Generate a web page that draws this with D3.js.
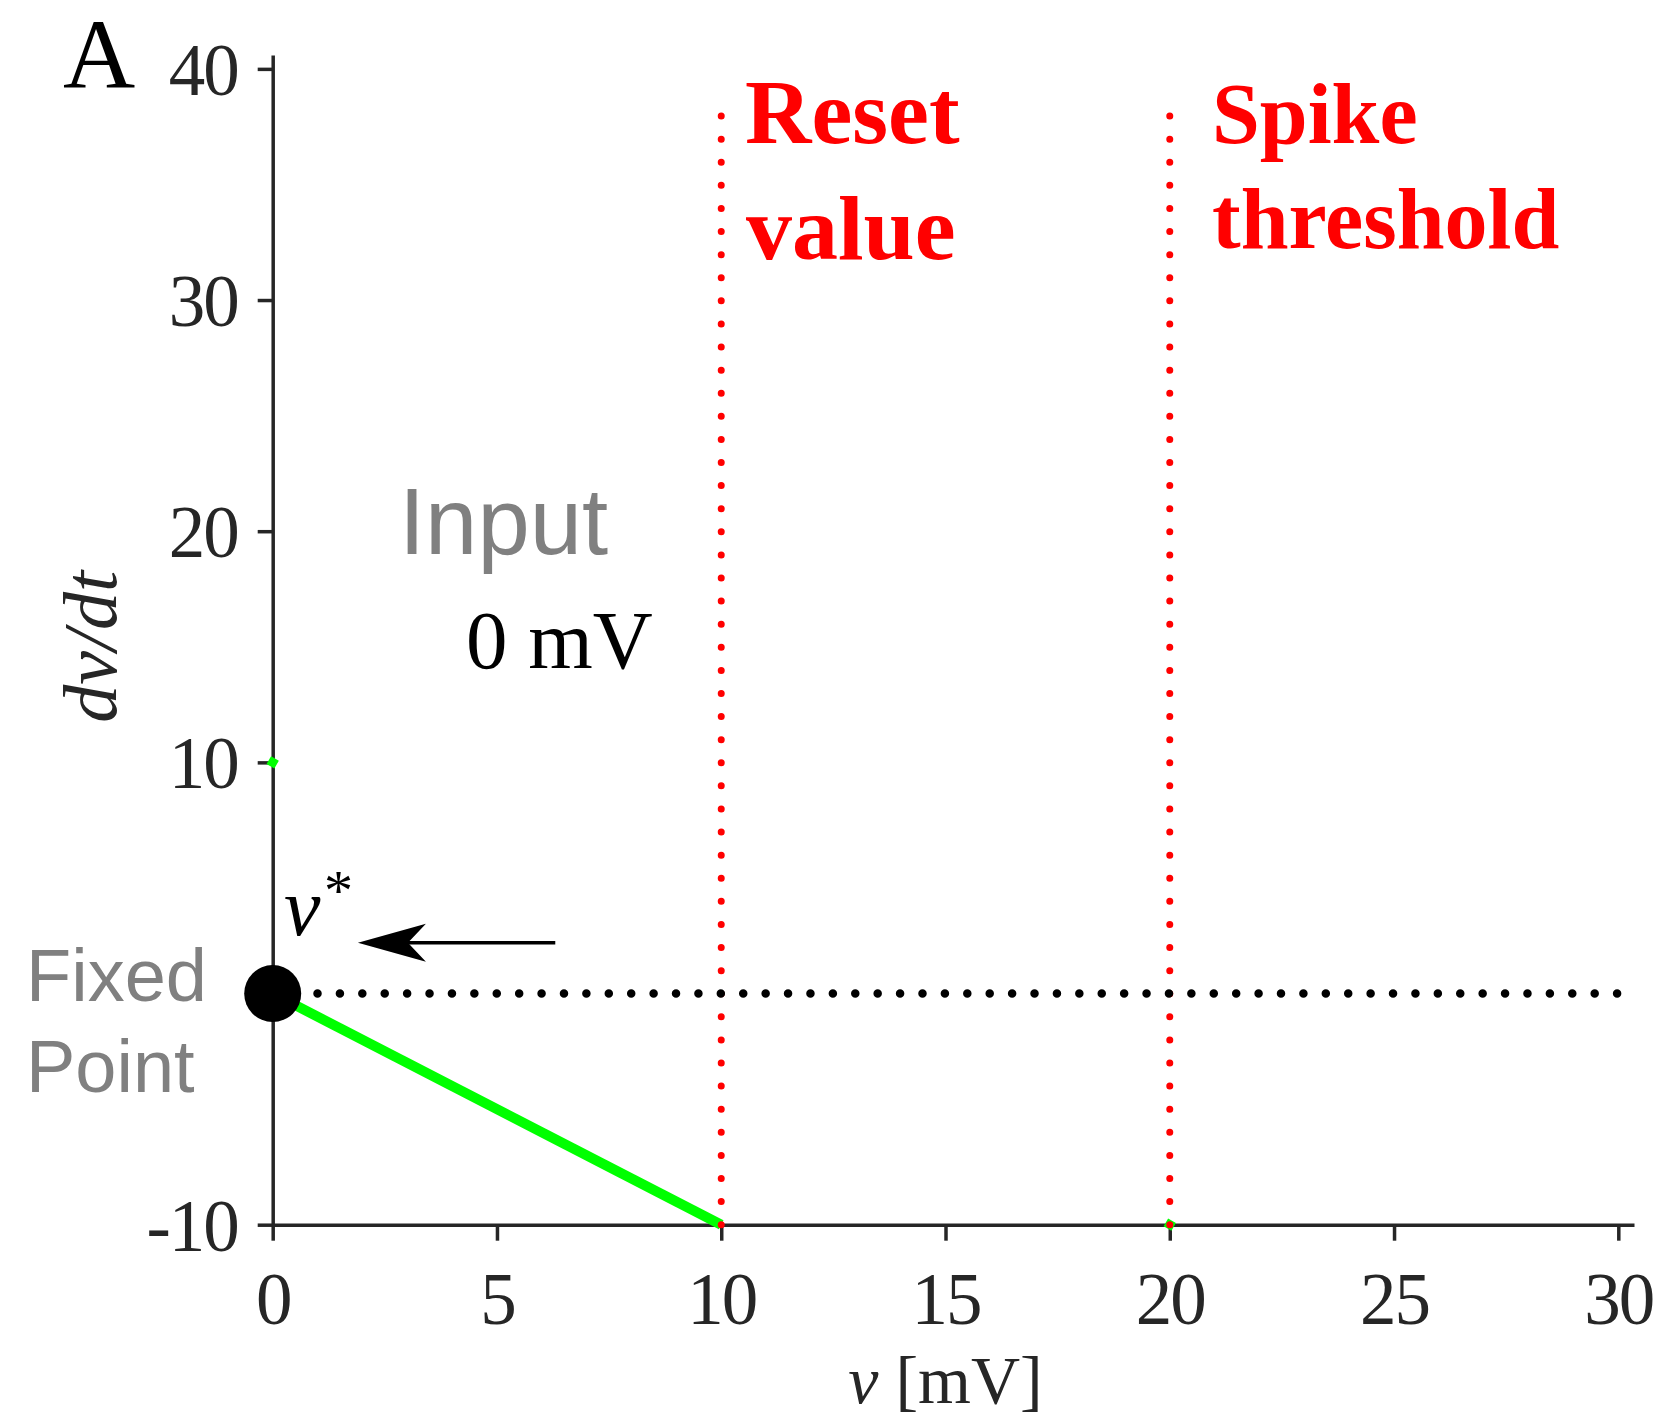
<!DOCTYPE html>
<html>
<head>
<meta charset="utf-8">
<script src="https://cdn.jsdelivr.net/npm/d3@7"></script>
<style>
  html, body { margin: 0; padding: 0; background: #fff; }
  svg { display: block; }
</style>
</head>
<body>
<script>
// Tick values for membrane voltage v (mV) and its rate dv/dt
const vTicks = [0, 5, 10, 15, 20, 25, 30];
const rateTicks = [-10, 10, 20, 30, 40];

// dv/dt for zero input: falls linearly from the fixed point to the reset value
const inputV = [0, 10];
const inputRate = [0, -10];

// Stray marker points of the input trace
const markV = [0, 20];
const markRate = [10, -10];

// Stable fixed point v*
const fixedV = [0];
const fixedRate = [0];

// Reset value and spike threshold (mV), and how high their guides reach
const resetV = 10;
const thresholdV = 20;
const guideTop = 38;

// dv/dt = 0 reference line
const zeroV = [0, 30];
const zeroRate = [0, 0];

// Flow arrow toward the fixed point
const arrowV = [6.3, 1.9];
const arrowRate = 2.2;

const W = 1664, H = 1421;
const AX = "#262626";
const SERIF = "'Liberation Serif', 'Times New Roman', serif";
const SANS = "'Liberation Sans', Arial, Helvetica, sans-serif";

const svg = d3.select("body").append("svg")
  .attr("width", W).attr("height", H)
  .attr("viewBox", `0 0 ${W} ${H}`);

svg.append("rect").attr("width", W).attr("height", H).attr("fill", "#fff");

const x = d3.scaleLinear().domain([0, 30.35]).range([272.7, 1634]);
const y = d3.scaleLinear().domain([-10, 40.6]).range([1224.7, 55]);

// ---- axes ----
const xAxis = d3.axisBottom(x).tickValues(vTicks).tickSizeInner(16).tickSizeOuter(0).tickFormat(d3.format("d"));
const yAxis = d3.axisLeft(y).tickValues(rateTicks).tickSizeInner(15).tickSizeOuter(0).tickFormat(d => d < 0 ? "-" + Math.abs(d) : d);

const gx = svg.append("g").attr("transform", `translate(0,${y(-10)})`).call(xAxis);
const gy = svg.append("g").attr("transform", `translate(${x(0)},0)`).call(yAxis);

[gx, gy].forEach(g => {
  g.select(".domain").attr("stroke", AX).attr("stroke-width", 3.5);
  g.selectAll(".tick line").attr("stroke", AX).attr("stroke-width", 3.5);
  g.selectAll(".tick text")
    .attr("fill", AX)
    .style("font-family", SERIF)
    .style("font-size", "73px")
    .style("letter-spacing", "-2px");
});
gx.selectAll(".tick text").attr("y", 99).attr("dy", 0);
gy.selectAll(".tick text").attr("x", -35).attr("dy", "0.35em");

// ---- helpers ----
// Round dots spaced evenly so that both ends of the path get a dot
function dotted(sel, color, width, spacing) {
  sel.each(function () {
    const len = this.getTotalLength();
    const n = Math.max(1, Math.round(len / spacing));
    const step = len / n - 0.02;
    d3.select(this)
      .attr("fill", "none")
      .attr("stroke", color)
      .attr("stroke-width", width)
      .attr("stroke-linecap", "round")
      .attr("stroke-dasharray", `0 ${step}`);
  });
}

const line = d3.line().x(d => x(d[0])).y(d => y(d[1]));

// ---- input trace ----
svg.append("path")
  .datum(inputV.map((v, i) => [v, inputRate[i]]))
  .attr("d", line)
  .attr("fill", "none")
  .attr("stroke", "#00ff00")
  .attr("stroke-width", 10);

svg.selectAll("rect.mark")
  .data(markV.map((v, i) => [v, markRate[i]]))
  .join("rect")
  .attr("class", "mark")
  .attr("x", -4.5).attr("y", -4.5).attr("width", 9).attr("height", 9)
  .attr("fill", "#00ff00")
  .attr("transform", d => `translate(${x(d[0])},${y(d[1])}) rotate(30)`);

// ---- reset / threshold guides ----
[resetV, thresholdV].forEach(v => {
  svg.append("path")
    .attr("d", line([[v, -10], [v, guideTop]]))
    .call(dotted, "#ff0000", 7, 23);
});

// ---- dv/dt = 0 line ----
svg.append("path")
  .datum(zeroV.map((v, i) => [v, zeroRate[i]]))
  .attr("d", line)
  .call(dotted, "#000", 8.5, 22.5);

// ---- fixed point ----
svg.selectAll("circle.fp")
  .data(fixedV.map((v, i) => [v, fixedRate[i]]))
  .join("circle")
  .attr("class", "fp")
  .attr("cx", d => x(d[0])).attr("cy", d => y(d[1]))
  .attr("r", 28.5)
  .attr("fill", "#000");

// ---- flow arrow ----
const tipX = x(arrowV[1]), tailX = x(arrowV[0]), ay = y(arrowRate);
svg.append("line")
  .attr("x1", tailX).attr("y1", ay)
  .attr("x2", tipX + 50).attr("y2", ay)
  .attr("stroke", "#000").attr("stroke-width", 3.5);
svg.append("path")
  .attr("d", `M${tipX},${ay} L${tipX + 68},${ay - 19} L${tipX + 50},${ay} L${tipX + 68},${ay + 19} Z`)
  .attr("fill", "#000");

// ---- text ----
function text(px, py, str, opts) {
  const t = svg.append("text")
    .attr("x", px).attr("y", py)
    .style("font-family", opts.family || SERIF)
    .style("font-size", opts.size + "px")
    .attr("fill", opts.fill || "#000");
  if (opts.weight) t.style("font-weight", opts.weight);
  if (opts.italic) t.style("font-style", "italic");
  if (opts.anchor) t.attr("text-anchor", opts.anchor);
  t.text(str);
  return t;
}

// panel letter
text(63, 88, "A", { size: 100 });

// axis titles
const xt = svg.append("text")
  .attr("x", (x(0) + x(30)) / 2).attr("y", 1403)
  .attr("text-anchor", "middle")
  .style("font-family", SERIF).style("font-size", "68px")
  .attr("fill", AX);
xt.append("tspan").style("font-style", "italic").text("v");
xt.append("tspan").text(" [mV]");

svg.append("text")
  .attr("transform", `translate(116,${(y(-10) + y(40)) / 2}) rotate(-90)`)
  .attr("text-anchor", "middle")
  .style("font-family", SERIF).style("font-size", "76px").style("font-style", "italic")
  .attr("fill", AX)
  .text("dv/dt");

// guide labels
text(745, 143, "Reset", { size: 92, weight: "bold", fill: "#ff0000" });
text(746, 259, "value", { size: 92, weight: "bold", fill: "#ff0000" });
text(1212, 143, "Spike", { size: 86, weight: "bold", fill: "#ff0000" });
text(1212, 248, "threshold", { size: 86, weight: "bold", fill: "#ff0000" });

// input annotation
text(399, 554, "Input", { size: 94, family: SANS, fill: "#808080" });
text(466, 668, "0 mV", { size: 83 });

// fixed point annotation
text(26, 1001, "Fixed", { size: 74, family: SANS, fill: "#808080" });
text(26, 1092, "Point", { size: 74, family: SANS, fill: "#808080" });
text(284, 935, "v", { size: 82, italic: true });
text(324, 910, "*", { size: 58 });
</script>
</body>
</html>
